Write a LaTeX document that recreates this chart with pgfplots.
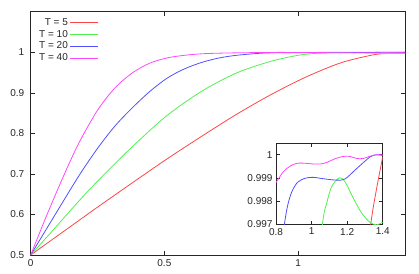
\documentclass[border=0pt]{standalone}
\usepackage{fontspec}
\setmainfont{Liberation Sans}
\usepackage{pgfplots}
\usepackage{pgfplotstable}
\pgfplotsset{compat=1.18}
\definecolor{cA}{RGB}{255,70,70}
\definecolor{cB}{RGB}{80,240,80}
\definecolor{cC}{RGB}{80,80,255}
\definecolor{cD}{RGB}{255,70,255}
\pgfplotstableread{
x y
0 0.5
0.09 0.5425
0.18 0.585
0.25 0.618
0.38 0.678
0.51 0.737
0.64 0.793
0.77 0.847
0.90 0.896
1.03 0.939
1.16 0.974
1.28 0.9935
1.3325 0.997
1.366 0.99856
1.4 0.99991
}\tA
\pgfplotstableread{
x y
0 0.5
0.09 0.566
0.18 0.633
0.25 0.682
0.38 0.767
0.51 0.844
0.64 0.904
0.77 0.949
0.90 0.978
1.0 0.9925
1.061 0.997
1.085 0.99791
1.113 0.99863
1.156 0.99901
1.188 0.99884
1.235 0.99813
1.282 0.99749
1.329 0.99709
1.366 0.99699
1.4 0.9971
}\tB
\pgfplotstableread{
x y
0 0.5
0.09 0.598
0.18 0.695
0.25 0.763
0.315 0.818
0.38 0.863
0.445 0.903
0.51 0.936
0.575 0.959
0.64 0.975
0.705 0.986
0.77 0.9925
0.847 0.997
0.879 0.9982
0.916 0.99877
0.963 0.99899
1.01 0.99903
1.066 0.99897
1.141 0.99891
1.188 0.99896
1.254 0.99941
1.329 0.99991
1.366 1.0
1.4 0.99997
}\tC
\pgfplotstableread{
x y
0 0.5
0.06 0.598
0.121 0.692
0.18 0.776
0.25 0.857
0.315 0.912
0.38 0.949
0.445 0.973
0.51 0.986
0.575 0.9925
0.64 0.9962
0.72 0.9980
0.8 0.99881
0.841 0.99927
0.879 0.99951
0.916 0.99963
0.954 0.99964
1.001 0.99961
1.0475 0.9996
1.085 0.99967
1.132 0.99983
1.179 0.99993
1.216 0.99993
1.254 0.99984
1.291 0.99984
1.329 0.99994
1.366 1.0
1.4 1.0
}\tD
\begin{document}
\begin{tikzpicture}
\path[use as bounding box] (-30.7pt,-18pt) rectangle (388.3pt,255pt);
\pgfplotsset{
  every axis/.append style={
    axis line style={black!85,line width=0.6pt},
    every tick/.style={black!85,line width=0.6pt},
    tick align=inside,
    /pgf/number format/assume math mode=true,
    tick label style={font=\fontsize{10}{12}\selectfont, text=black!85},
  },
}
\begin{axis}[
  name=main, at={(0,0)}, anchor=south west,
  scale only axis, width=374.3pt, height=243.3pt,
  xmin=0, xmax=1.4, ymin=0.5, ymax=1.1,
  xtick={0,0.5,1}, ytick={0.5,0.6,0.7,0.8,0.9,1},
  major tick length=4.5pt,
  yticklabel style={xshift=-3pt},
  xticklabel style={yshift=-1pt},
  legend style={at={(rel axis cs:0,1)}, xshift=3.3pt, yshift=-2.6pt, anchor=north west,
    draw=none, fill=none, font=\fontsize{10}{12}\selectfont, row sep=-0.7pt, text=black!85},
  legend cell align=right,
  legend plot pos=right,
  legend image code/.code={\draw[#1] (0pt,0pt) -- (27.7pt,0pt);},
]
\addplot[cA, line width=0.8pt, smooth] table {\tA}; \addlegendentry{T = 5}
\addplot[cB, line width=0.8pt, smooth] table {\tB}; \addlegendentry{T = 10}
\addplot[cC, line width=0.8pt, smooth] table {\tC}; \addlegendentry{T = 20}
\addplot[cD, line width=0.8pt, smooth] table {\tD}; \addlegendentry{T = 40}
\end{axis}
\begin{axis}[
  at={(245.3pt,30.3pt)}, anchor=south west,
  scale only axis, width=106.7pt, height=81.4pt,
  xmin=0.8, xmax=1.4, ymin=0.997, ymax=1.0005,
  xtick={0.8,1,1.2,1.4}, ytick={0.997,0.998,0.999,1},
  major tick length=4pt,
  yticklabel style={/pgf/number format/.cd, fixed, precision=3, assume math mode=true},
  xticklabel style={/pgf/number format/.cd, fixed, precision=1, assume math mode=true},
  scaled ticks=false,
  axis background/.style={fill=white},
]
\addplot[cA, line width=0.8pt, smooth] table {\tA};
\addplot[cB, line width=0.8pt, smooth] table {\tB};
\addplot[cC, line width=0.8pt, smooth] table {\tC};
\addplot[cD, line width=0.8pt, smooth] table {\tD};
\end{axis}
\end{tikzpicture}
\end{document}
